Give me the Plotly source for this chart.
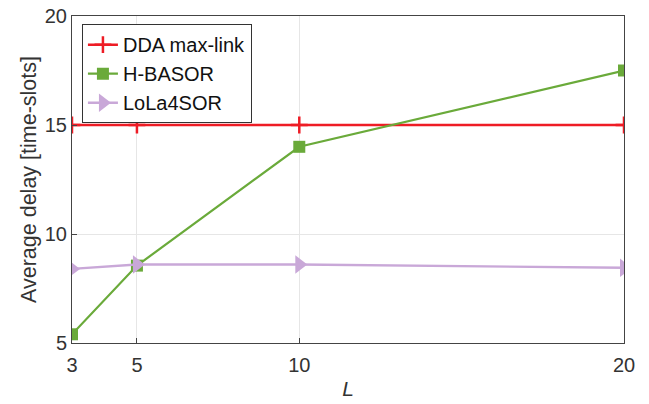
import plotly.graph_objects as go

L = [3, 5, 10, 20]
dda = [15, 15, 15, 15]
hbasor = [5.4, 8.55, 14.0, 17.5]
lola = [8.4, 8.6, 8.6, 8.45]

fig = go.Figure()
fig.add_trace(go.Scatter(x=L, y=dda, name="DDA max-link", mode="lines+markers",
                         line=dict(color="#ee1c25", width=2.4),
                         marker=dict(symbol="cross-thin", size=12, line=dict(color="#ee1c25", width=2.5))))
fig.add_trace(go.Scatter(x=L, y=hbasor, name="H-BASOR", mode="lines+markers",
                         line=dict(color="#6aaa3a", width=2.2),
                         marker=dict(symbol="square", size=12, color="#6aaa3a")))
fig.add_trace(go.Scatter(x=L, y=lola, name="LoLa4SOR", mode="lines+markers",
                         line=dict(color="#c9a8d8", width=2.4),
                         marker=dict(symbol="triangle-right", size=16, color="#c9a8d8")))

axis_common = dict(showline=True, linecolor="#444444", linewidth=1, mirror=True,
                   ticks="inside", ticklen=5, tickcolor="#444444", automargin=False,
                   showgrid=True, gridcolor="#e6e6e6", gridwidth=1, zeroline=False,
                   tickfont=dict(family="Liberation Sans, Arial", size=20, color="#333333"))

fig.update_xaxes(range=[3, 20], tickvals=[3, 5, 10, 20], **axis_common, ticklabelstandoff=4,
                 title=dict(text="<i>L</i>", font=dict(family="Liberation Sans, Arial", size=21, color="#333333"), standoff=6))
fig.update_yaxes(range=[5, 20], tickvals=[5, 10, 15, 20], **axis_common,
                 title=dict(text="Average delay [time-slots]", font=dict(family="Liberation Sans, Arial", size=21.5, color="#333333"), standoff=2))

fig.update_layout(width=649, height=404, margin=dict(l=72, r=25, t=16, b=61),
                  plot_bgcolor="white", paper_bgcolor="white",
                  legend=dict(x=0.018, y=0.975, xanchor="left", yanchor="top",
                              bordercolor="#333333", borderwidth=1, bgcolor="white",
                              font=dict(family="Liberation Sans, Arial", size=20, color="#111111"),
                              tracegroupgap=0, itemwidth=30))

fig.write_html("out.html")
